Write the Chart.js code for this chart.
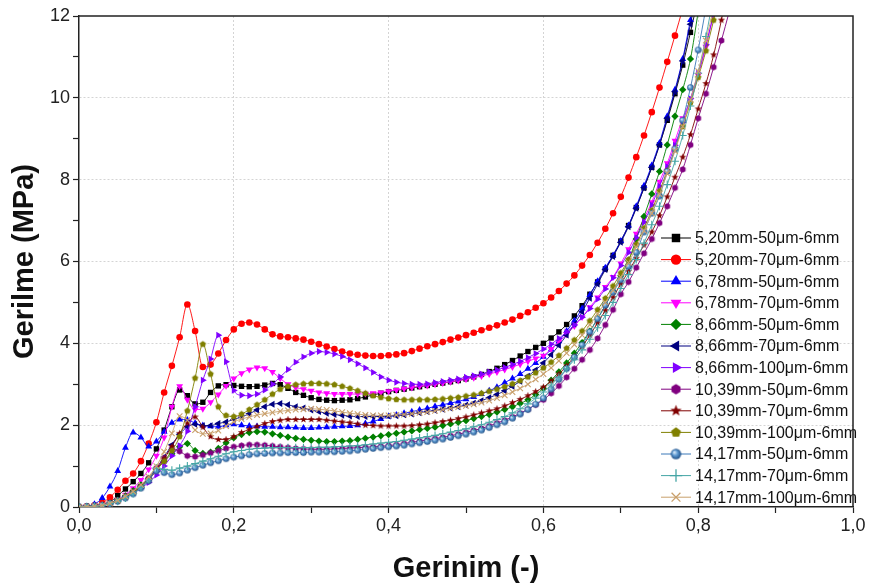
<!DOCTYPE html>
<html>
<head>
<meta charset="utf-8">
<script src="https://cdn.jsdelivr.net/npm/chart.js@4.4.1/dist/chart.umd.min.js"></script>
<style>
  html, body { margin: 0; padding: 0; background: #ffffff; }
  #wrap { width: 871px; height: 588px; }
</style>
</head>
<body>
<div id="wrap"><canvas id="c" width="871" height="588"></canvas></div>
<script>
// Strain sampling points (shared by every specimen curve)
const strain = [
  0.00, 0.01, 0.02, 0.03, 0.04, 0.05, 0.06, 0.07, 0.08, 0.09,
  0.10, 0.11, 0.12, 0.13, 0.14, 0.15, 0.16, 0.17, 0.18, 0.19,
  0.20, 0.21, 0.22, 0.23, 0.24, 0.25, 0.26, 0.27, 0.28, 0.29,
  0.30, 0.31, 0.32, 0.33, 0.34, 0.35, 0.36, 0.37, 0.38, 0.39,
  0.40, 0.41, 0.42, 0.43, 0.44, 0.45, 0.46, 0.47, 0.48, 0.49,
  0.50, 0.51, 0.52, 0.53, 0.54, 0.55, 0.56, 0.57, 0.58, 0.59,
  0.60, 0.61, 0.62, 0.63, 0.64, 0.65, 0.66, 0.67, 0.68, 0.69,
  0.70, 0.71, 0.72, 0.73, 0.74, 0.75, 0.76, 0.77, 0.78, 0.79,
  0.80, 0.81, 0.82, 0.83, 0.84, 0.85
];

// Stress (MPa) for each specimen, one value per strain point
const s520_50 = [
  0, 0.01, 0.02, 0.05, 0.12, 0.28, 0.44, 0.62, 0.82, 1.08,
  1.42, 1.88, 2.45, 2.86, 2.72, 2.52, 2.56, 2.80, 2.96, 2.99,
  2.97, 2.95, 2.94, 2.95, 2.98, 3.02, 2.99, 2.90, 2.80, 2.73,
  2.67, 2.63, 2.61, 2.60, 2.61, 2.62, 2.65, 2.69, 2.74, 2.78,
  2.82, 2.85, 2.88, 2.91, 2.94, 2.97, 3.00, 3.03, 3.06, 3.09,
  3.13, 3.18, 3.24, 3.31, 3.39, 3.48, 3.58, 3.69, 3.80, 3.90,
  4.00, 4.13, 4.28, 4.46, 4.67, 4.92, 5.20, 5.50, 5.82, 6.15,
  6.50, 6.88, 7.32, 7.80, 8.30, 8.85, 9.45, 10.10, 10.80, 11.60,
  12.45
];
const s520_70 = [
  0, 0.01, 0.04, 0.10, 0.24, 0.42, 0.64, 0.82, 1.12, 1.55,
  2.07, 2.80, 3.45, 4.15, 4.95, 4.30, 3.42, 3.48, 3.75, 4.08,
  4.34, 4.48, 4.51, 4.46, 4.34, 4.22, 4.17, 4.15, 4.12, 4.09,
  4.04, 3.98, 3.92, 3.86, 3.80, 3.75, 3.72, 3.70, 3.69, 3.69,
  3.71, 3.73, 3.76, 3.81, 3.87, 3.93, 3.98, 4.03, 4.09, 4.14,
  4.20, 4.26, 4.32, 4.38, 4.44, 4.51, 4.58, 4.67, 4.76, 4.87,
  4.98, 5.12, 5.28, 5.46, 5.66, 5.90, 6.16, 6.46, 6.80, 7.18,
  7.58, 8.05, 8.55, 9.08, 9.65, 10.25, 10.88, 11.52, 12.18
];
const s678_50 = [
  0, 0.01, 0.07, 0.22, 0.50, 0.88, 1.45, 1.82, 1.70, 1.48,
  1.60, 1.84, 2.06, 2.14, 2.13, 2.05, 1.99, 1.97, 1.96, 2.00,
  2.02, 2.00, 1.98, 1.97, 1.96, 1.96, 1.95, 1.95, 1.94, 1.93,
  1.93, 1.94, 1.95, 1.96, 1.97, 1.98, 2.00, 2.04, 2.09, 2.15,
  2.21, 2.25, 2.29, 2.33, 2.37, 2.41, 2.46, 2.50, 2.54, 2.58,
  2.63, 2.69, 2.76, 2.84, 2.93, 3.04, 3.14, 3.25, 3.38, 3.52,
  3.67, 3.85, 4.05, 4.30, 4.55, 4.85, 5.18, 5.52, 5.85, 6.15,
  6.50, 6.88, 7.35, 7.85, 8.35, 8.90, 9.55, 10.20, 10.95, 11.90,
  12.80
];
const s678_70 = [
  0, 0.01, 0.02, 0.05, 0.10, 0.18, 0.30, 0.46, 0.66, 0.92,
  1.25, 1.70, 2.45, 2.95, 2.62, 2.38, 2.40, 2.56, 2.75, 2.96,
  3.14, 3.27, 3.36, 3.41, 3.39, 3.30, 3.14, 3.00, 2.92, 2.88,
  2.84, 2.80, 2.78, 2.76, 2.76, 2.76, 2.76, 2.77, 2.78, 2.80,
  2.83, 2.86, 2.89, 2.92, 2.95, 2.97, 3.00, 3.03, 3.06, 3.09,
  3.12, 3.16, 3.20, 3.25, 3.30, 3.36, 3.42, 3.49, 3.56, 3.63,
  3.70, 3.86, 4.04, 4.22, 4.42, 4.64, 4.88, 5.12, 5.38, 5.62,
  5.95, 6.30, 6.68, 7.05, 7.45, 7.95, 8.40, 8.95, 9.50, 9.95,
  10.55, 11.25, 12.05
];
const s866_50 = [
  0, 0.01, 0.02, 0.04, 0.09, 0.17, 0.27, 0.40, 0.54, 0.70,
  0.92, 1.12, 1.30, 1.47, 1.55, 1.38, 1.31, 1.34, 1.43, 1.57,
  1.69, 1.77, 1.82, 1.84, 1.83, 1.79, 1.75, 1.71, 1.68, 1.65,
  1.63, 1.61, 1.60, 1.60, 1.61, 1.62, 1.65, 1.68, 1.71, 1.74,
  1.77, 1.80, 1.83, 1.86, 1.89, 1.92, 1.95, 1.99, 2.03, 2.07,
  2.11, 2.16, 2.21, 2.26, 2.32, 2.38, 2.45, 2.53, 2.62, 2.75,
  2.90, 3.10, 3.30, 3.52, 3.76, 4.02, 4.30, 4.60, 4.93, 5.28,
  5.65, 6.02, 6.55, 7.10, 7.65, 8.20, 8.85, 9.55, 10.20, 10.95,
  12.10
];
const s866_70 = [
  0, 0.01, 0.02, 0.04, 0.09, 0.16, 0.25, 0.36, 0.50, 0.68,
  0.95, 1.22, 1.52, 1.78, 1.96, 2.02, 1.99, 1.99, 2.04, 2.08,
  2.14, 2.20, 2.28, 2.37, 2.45, 2.51, 2.53, 2.50, 2.45, 2.42,
  2.37, 2.33, 2.29, 2.26, 2.24, 2.22, 2.21, 2.21, 2.21, 2.21,
  2.22, 2.23, 2.25, 2.27, 2.30, 2.33, 2.36, 2.39, 2.42, 2.45,
  2.49, 2.54, 2.60, 2.67, 2.75, 2.84, 2.95, 3.07, 3.20, 3.35,
  3.52, 3.72, 3.95, 4.20, 4.47, 4.77, 5.10, 5.45, 5.80, 6.12,
  6.47, 6.85, 7.30, 7.80, 8.30, 8.85, 9.50, 10.15, 10.90, 11.80,
  12.70
];
const s866_100 = [
  0, 0.01, 0.02, 0.04, 0.08, 0.15, 0.24, 0.34, 0.46, 0.60,
  0.78, 1.00, 1.25, 1.50, 1.85, 2.45, 3.10, 3.62, 4.20, 3.55,
  2.85, 2.73, 2.72, 2.76, 2.86, 3.00, 3.18, 3.36, 3.54, 3.67,
  3.76, 3.80, 3.78, 3.74, 3.68, 3.60, 3.50, 3.40, 3.29, 3.18,
  3.10, 3.05, 3.02, 3.00, 3.00, 3.01, 3.04, 3.07, 3.10, 3.13,
  3.17, 3.21, 3.25, 3.30, 3.35, 3.41, 3.48, 3.56, 3.65, 3.75,
  3.86, 3.98, 4.12, 4.28, 4.45, 4.64, 4.85, 5.08, 5.33, 5.60,
  5.90, 6.22, 6.58, 6.96, 7.38, 7.84, 8.32, 8.84, 9.40, 9.98,
  10.60, 11.30, 12.05
];
const s1039_50 = [
  0, 0.01, 0.02, 0.04, 0.09, 0.16, 0.25, 0.36, 0.50, 0.70,
  0.95, 1.20, 1.42, 1.36, 1.25, 1.23, 1.27, 1.32, 1.37, 1.43,
  1.47, 1.50, 1.52, 1.52, 1.51, 1.49, 1.47, 1.45, 1.43, 1.42,
  1.41, 1.41, 1.41, 1.42, 1.43, 1.44, 1.45, 1.46, 1.47, 1.48,
  1.50, 1.52, 1.55, 1.58, 1.61, 1.64, 1.67, 1.70, 1.74, 1.78,
  1.82, 1.87, 1.92, 1.98, 2.05, 2.12, 2.20, 2.29, 2.39, 2.50,
  2.62, 2.78, 2.96, 3.17, 3.38, 3.60, 3.84, 4.12, 4.45, 4.82,
  5.20, 5.50, 5.85, 6.20, 6.55, 6.94, 7.35, 7.80, 8.25, 8.85,
  9.50, 10.10, 10.75, 11.40, 12.10
];
const s1039_70 = [
  0, 0.01, 0.02, 0.04, 0.09, 0.16, 0.25, 0.36, 0.50, 0.66,
  0.90, 1.18, 1.48, 1.80, 2.05, 2.20, 1.95, 1.72, 1.65, 1.65,
  1.72, 1.82, 1.90, 1.97, 2.04, 2.09, 2.12, 2.14, 2.14, 2.14,
  2.14, 2.14, 2.12, 2.10, 2.08, 2.06, 2.03, 2.00, 1.99, 1.98,
  1.98, 1.98, 1.98, 1.99, 2.01, 2.03, 2.06, 2.09, 2.12, 2.16,
  2.20, 2.25, 2.30, 2.35, 2.40, 2.47, 2.55, 2.63, 2.72, 2.82,
  2.93, 3.08, 3.25, 3.45, 3.68, 3.92, 4.20, 4.50, 4.80, 5.12,
  5.45, 5.76, 6.08, 6.40, 6.72, 7.12, 7.58, 8.06, 8.55, 9.10,
  9.73, 10.35, 11.05, 11.90, 12.80
];
const s1039_100 = [
  0, 0.01, 0.02, 0.04, 0.09, 0.16, 0.25, 0.36, 0.50, 0.68,
  0.90, 1.12, 1.38, 1.72, 2.35, 3.15, 3.98, 3.25, 2.45, 2.24,
  2.21, 2.27, 2.38, 2.50, 2.62, 2.76, 2.88, 2.95, 2.99, 3.01,
  3.02, 3.02, 3.01, 2.99, 2.95, 2.90, 2.84, 2.78, 2.72, 2.68,
  2.65, 2.63, 2.62, 2.62, 2.62, 2.62, 2.63, 2.64, 2.66, 2.68,
  2.71, 2.74, 2.78, 2.83, 2.88, 2.94, 3.01, 3.09, 3.18, 3.28,
  3.40, 3.54, 3.70, 3.88, 4.08, 4.30, 4.55, 4.82, 5.10, 5.40,
  5.72, 6.05, 6.42, 6.82, 7.25, 7.72, 8.22, 8.75, 9.30, 9.88,
  10.50, 11.15, 11.90, 12.70
];
const s1417_50 = [
  0, 0.01, 0.02, 0.04, 0.08, 0.14, 0.22, 0.32, 0.46, 0.64,
  0.88, 0.84, 0.79, 0.83, 0.90, 0.96, 1.02, 1.08, 1.13, 1.18,
  1.22, 1.25, 1.28, 1.30, 1.31, 1.32, 1.32, 1.33, 1.33, 1.33,
  1.34, 1.34, 1.35, 1.35, 1.36, 1.37, 1.39, 1.41, 1.43, 1.45,
  1.47, 1.49, 1.51, 1.54, 1.57, 1.60, 1.63, 1.66, 1.70, 1.74,
  1.78, 1.83, 1.88, 1.94, 2.01, 2.08, 2.17, 2.27, 2.38, 2.51,
  2.66, 2.88, 3.12, 3.38, 3.66, 3.96, 4.28, 4.60, 4.93, 5.25,
  5.55, 5.88, 6.22, 6.72, 7.18, 7.60, 8.20, 8.75, 9.45, 10.25,
  11.17, 12.20
];
const s1417_70 = [
  0, 0.01, 0.02, 0.04, 0.08, 0.14, 0.22, 0.33, 0.48, 0.68,
  0.95, 0.92, 0.90, 0.95, 1.00, 1.06, 1.12, 1.18, 1.24, 1.30,
  1.35, 1.38, 1.41, 1.43, 1.44, 1.45, 1.45, 1.45, 1.45, 1.45,
  1.45, 1.46, 1.46, 1.47, 1.48, 1.49, 1.50, 1.52, 1.54, 1.56,
  1.58, 1.60, 1.63, 1.66, 1.69, 1.72, 1.75, 1.79, 1.83, 1.87,
  1.91, 1.96, 2.01, 2.07, 2.14, 2.21, 2.30, 2.40, 2.52, 2.66,
  2.81, 2.98, 3.17, 3.38, 3.60, 3.84, 4.10, 4.38, 4.68, 5.00,
  5.34, 5.68, 6.05, 6.45, 6.90, 7.35, 7.88, 8.45, 9.08, 9.80,
  10.60, 11.50, 12.50
];
const s1417_100 = [
  0, 0.01, 0.02, 0.04, 0.09, 0.16, 0.26, 0.38, 0.54, 0.74,
  1.00, 1.35, 1.80, 2.22, 2.12, 1.88, 1.79, 1.80, 1.87, 1.98,
  2.08, 2.15, 2.20, 2.25, 2.28, 2.31, 2.34, 2.36, 2.38, 2.39,
  2.40, 2.39, 2.37, 2.35, 2.32, 2.29, 2.27, 2.25, 2.24, 2.24,
  2.24, 2.25, 2.26, 2.28, 2.30, 2.32, 2.35, 2.38, 2.41, 2.44,
  2.47, 2.51, 2.55, 2.60, 2.66, 2.73, 2.81, 2.90, 3.00, 3.12,
  3.25, 3.40, 3.57, 3.76, 3.97, 4.20, 4.45, 4.72, 5.00, 5.30,
  5.62, 5.97, 6.35, 6.75, 7.18, 7.65, 8.15, 8.70, 9.30, 9.95,
  10.65, 11.40, 12.20
];

// Specimen names as shown in the legend
const seriesNames = [
  '5,20mm-50\u03bcm-6mm', '5,20mm-70\u03bcm-6mm',
  '6,78mm-50\u03bcm-6mm', '6,78mm-70\u03bcm-6mm',
  '8,66mm-50\u03bcm-6mm', '8,66mm-70\u03bcm-6mm', '8,66mm-100\u03bcm-6mm',
  '10,39mm-50\u03bcm-6mm', '10,39mm-70\u03bcm-6mm', '10,39mm-100\u03bcm-6mm',
  '14,17mm-50\u03bcm-6mm', '14,17mm-70\u03bcm-6mm', '14,17mm-100\u03bcm-6mm'
];
const seriesValues = [
  s520_50, s520_70, s678_50, s678_70, s866_50, s866_70, s866_100,
  s1039_50, s1039_70, s1039_100, s1417_50, s1417_70, s1417_100
];
const seriesColors = [
  '#000000', '#ff0000', '#0000ff', '#ff00ff', '#008000', '#000080', '#8000ff',
  '#800080', '#800000', '#808000', '#3b78b8', '#45a5a5', '#c9a06c'
];
const seriesMarkers = [
  'square', 'circle', 'up', 'down', 'diamond', 'left', 'right',
  'hexagon', 'star', 'pentagon', 'sphere', 'cross', 'x'
];

// Axis tick labels (decimal comma)
const xTicks = [0, 0.2, 0.4, 0.6, 0.8, 1.0];
const xTickLabels = ['0,0', '0,2', '0,4', '0,6', '0,8', '1,0'];
const yTicks = [0, 2, 4, 6, 8, 10, 12];
const yTickLabels = ['0', '2', '4', '6', '8', '10', '12'];

const FONT = "'Liberation Sans', Arial, Helvetica, sans-serif";

// Canvas-drawn marker shapes that Chart.js has no built-in style for
function shapeCanvas(kind, r, color) {
  const s = Math.ceil(2 * r + 4);
  const c = document.createElement('canvas');
  c.width = s; c.height = s;
  const g = c.getContext('2d');
  const cx = s / 2, cy = s / 2;
  g.fillStyle = color;
  g.beginPath();
  if (kind === 'hexagon' || kind === 'pentagon') {
    const n = kind === 'hexagon' ? 6 : 5;
    for (let k = 0; k < n; k++) {
      const a = -Math.PI / 2 + k * 2 * Math.PI / n;
      g.lineTo(cx + r * Math.cos(a), cy + r * Math.sin(a));
    }
    g.closePath();
    g.fill();
  } else if (kind === 'star') {
    const ro = r * 1.15, ri = ro * 0.42;
    for (let k = 0; k < 10; k++) {
      const a = -Math.PI / 2 + k * Math.PI / 5;
      const rr = k % 2 === 0 ? ro : ri;
      g.lineTo(cx + rr * Math.cos(a), cy + rr * Math.sin(a));
    }
    g.closePath();
    g.fill();
  } else if (kind === 'sphere') {
    const grad = g.createRadialGradient(cx - r * 0.35, cy - r * 0.35, r * 0.1, cx, cy, r);
    grad.addColorStop(0, '#d6e8f8');
    grad.addColorStop(0.45, '#5f9bd2');
    grad.addColorStop(1, '#1f4f86');
    g.fillStyle = grad;
    g.arc(cx, cy, r, 0, Math.PI * 2);
    g.fill();
  }
  return c;
}

function markerStyle(kind, color, r) {
  switch (kind) {
    case 'square': return { style: 'rect', rot: 0, r: r * 1.15 };
    case 'circle': return { style: 'circle', rot: 0, r: r };
    case 'up': return { style: 'triangle', rot: 0, r: r * 1.2 };
    case 'down': return { style: 'triangle', rot: 180, r: r * 1.2 };
    case 'left': return { style: 'triangle', rot: 270, r: r * 1.2 };
    case 'right': return { style: 'triangle', rot: 90, r: r * 1.2 };
    case 'diamond': return { style: 'rectRot', rot: 0, r: r * 1.1 };
    case 'cross': return { style: 'cross', rot: 0, r: r * 1.2, stroke: true };
    case 'x': return { style: 'crossRot', rot: 0, r: r * 1.2, stroke: true };
    default: return { style: shapeCanvas(kind, r, color), rot: 0, r: r };
  }
}

const PT_R = 3.3;
const LEGEND_R = 5.2;

const datasets = seriesValues.map((vals, i) => {
  const color = seriesColors[i];
  const m = markerStyle(seriesMarkers[i], color, PT_R);
  return {
    label: seriesNames[i],
    data: vals.map((v, k) => ({ x: strain[k], y: v })),
    borderColor: color,
    backgroundColor: color,
    borderWidth: 0.9,
    pointStyle: m.style,
    rotation: m.rot,
    pointRadius: m.r,
    pointHoverRadius: m.r,
    pointBackgroundColor: color,
    pointBorderColor: color,
    pointBorderWidth: m.stroke ? 1.1 : 0,
    cubicInterpolationMode: 'monotone',
    fill: false,
    order: -i
  };
});

// Legend drawn inside the plot area, lower right
const innerLegend = {
  id: 'innerLegend',
  afterDatasetsDraw(chart) {
    const ctx = chart.ctx;
    const a = chart.chartArea;
    const x0 = a.right - 192;
    const y0 = a.top + 222;
    const step = 21.6;
    ctx.save();
    seriesNames.forEach((name, i) => {
      const y = y0 + i * step;
      const color = seriesColors[i];
      ctx.strokeStyle = color;
      ctx.lineWidth = 1;
      ctx.beginPath();
      ctx.moveTo(x0, y);
      ctx.lineTo(x0 + 30, y);
      ctx.stroke();
      const m = markerStyle(seriesMarkers[i], color, LEGEND_R);
      ctx.fillStyle = color;
      ctx.strokeStyle = color;
      ctx.lineWidth = m.stroke ? 1.3 : 0;
      Chart.helpers.drawPoint(ctx, {
        pointStyle: m.style, rotation: m.rot, radius: m.r,
        borderWidth: m.stroke ? 1.3 : 0
      }, x0 + 15, y);
      ctx.fillStyle = '#111111';
      ctx.font = '16px ' + FONT;
      ctx.textBaseline = 'middle';
      ctx.textAlign = 'left';
      ctx.fillText(name, x0 + 34, y + 1);
    });
    ctx.restore();
  }
};

// Closes the plot box on the top and right sides
const frame = {
  id: 'frame',
  afterDraw(chart) {
    const ctx = chart.ctx;
    const a = chart.chartArea;
    ctx.save();
    ctx.strokeStyle = '#222222';
    ctx.lineWidth = 1.5;
    ctx.beginPath();
    ctx.moveTo(a.left, a.top);
    ctx.lineTo(a.right, a.top);
    ctx.lineTo(a.right, a.bottom);
    ctx.stroke();
    ctx.restore();
  }
};

function matchTick(list, v) {
  return list.findIndex(t => Math.abs(t - v) < 1e-6);
}

new Chart(document.getElementById('c'), {
  type: 'line',
  data: { datasets },
  plugins: [innerLegend, frame],
  options: {
    responsive: false,
    animation: false,
    events: [],
    layout: { padding: { top: 16, right: 18, left: 0, bottom: 0 } },
    plugins: { legend: { display: false }, tooltip: { enabled: false } },
    scales: {
      x: {
        type: 'linear', min: 0, max: 1,
        afterFit(scale) { scale.height = 81; },
        ticks: {
          stepSize: 0.1, autoSkip: false, maxRotation: 0, padding: 2,
          color: '#222222', font: { family: FONT, size: 18 },
          callback(v) { const k = matchTick(xTicks, v); return k >= 0 ? xTickLabels[k] : ''; }
        },
        grid: {
          drawOnChartArea: true, lineWidth: 1,
          color(c) {
            const v = c.tick ? c.tick.value : -1;
            return (matchTick(xTicks, v) > 0 && v < 0.999) ? '#d4d4d4' : 'rgba(0,0,0,0)';
          },
          tickColor: '#222222', tickLength: 6, tickWidth: 1.2
        },
        border: { display: true, color: '#222222', width: 1.5, dash: [2, 2] },
        title: {
          display: true, text: 'Gerinim (-)', color: '#111111',
          font: { family: FONT, size: 29, weight: 'bold' },
          padding: { top: 0, bottom: 2 }
        }
      },
      y: {
        type: 'linear', min: 0, max: 12,
        afterFit(scale) { scale.width = 79; },
        ticks: {
          stepSize: 1, autoSkip: false, padding: 3,
          color: '#222222', font: { family: FONT, size: 18 },
          callback(v) { const k = matchTick(yTicks, v); return k >= 0 ? yTickLabels[k] : ''; }
        },
        grid: {
          drawOnChartArea: true, lineWidth: 1,
          color(c) {
            const v = c.tick ? c.tick.value : -1;
            return (matchTick(yTicks, v) > 0 && v < 11.999) ? '#d4d4d4' : 'rgba(0,0,0,0)';
          },
          tickColor: '#222222', tickLength: 6, tickWidth: 1.2
        },
        border: { display: true, color: '#222222', width: 1.5, dash: [2, 2] },
        title: {
          display: true, text: 'Gerilme (MPa)', color: '#111111',
          font: { family: FONT, size: 29, weight: 'bold' },
          padding: { top: 8, bottom: 0 }
        }
      }
    }
  }
});
</script>
</body>
</html>
